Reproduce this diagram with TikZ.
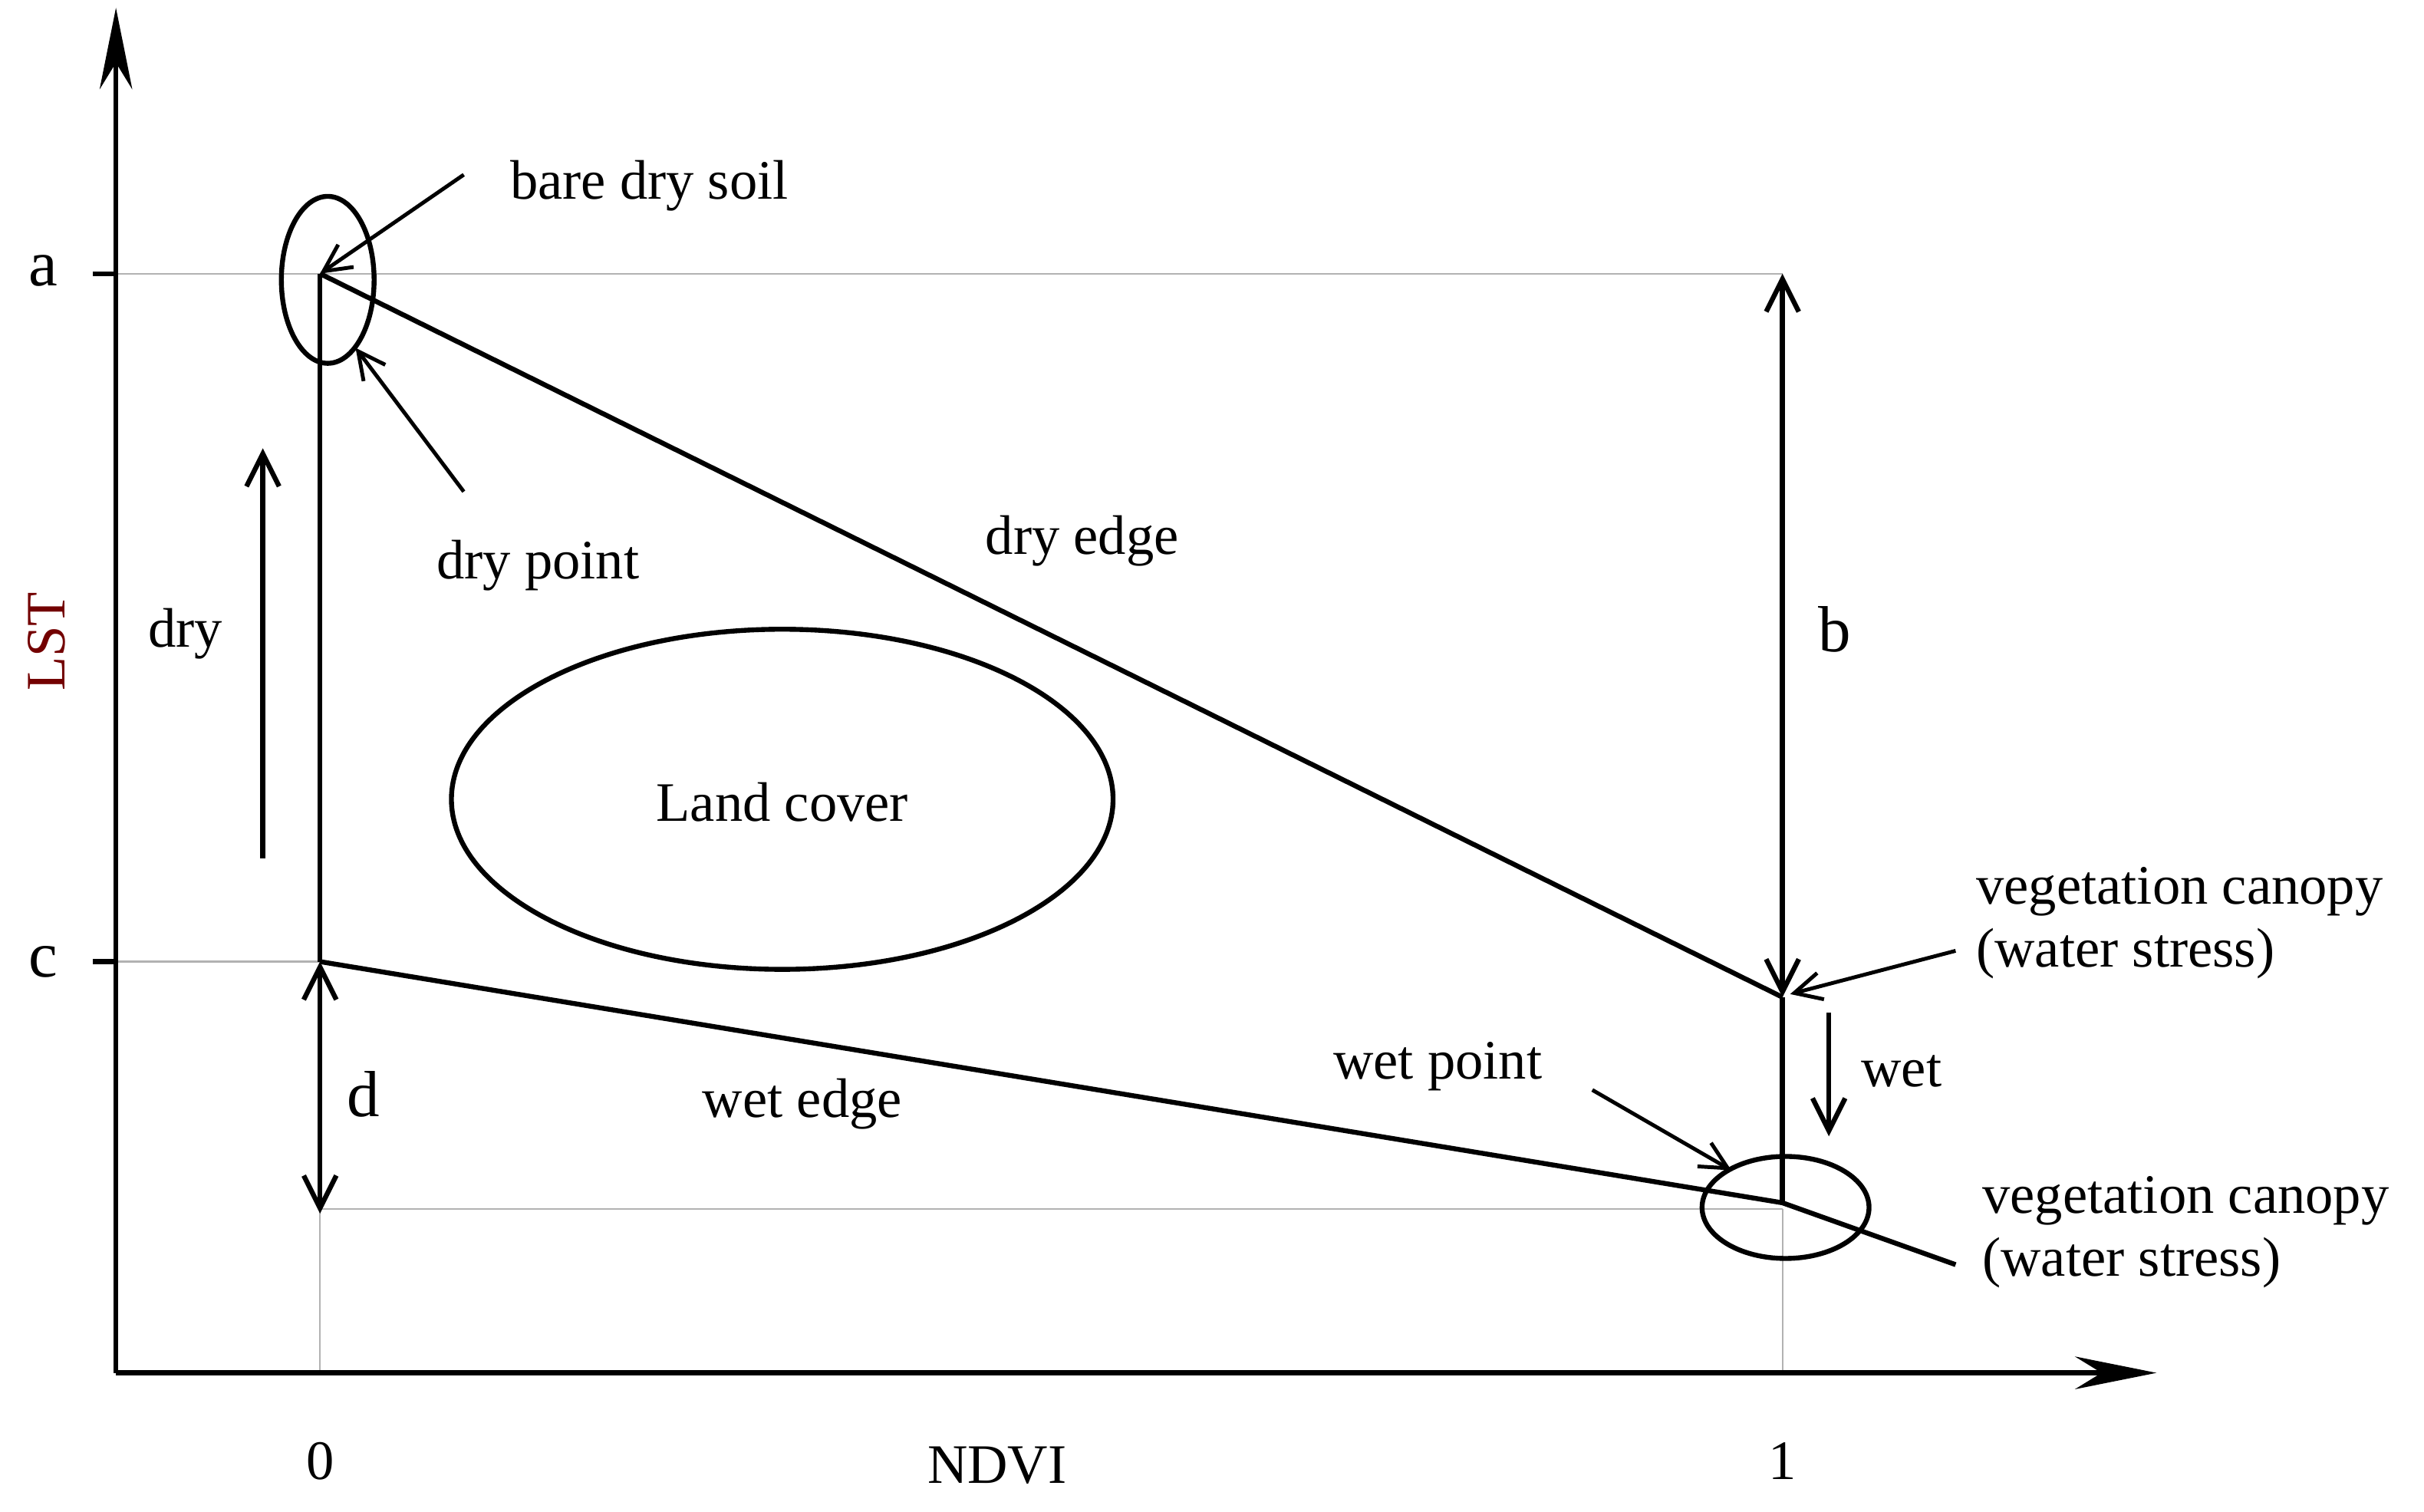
\documentclass[tikz,border=0pt]{standalone}
\usepackage{fontspec}
\setmainfont{Liberation Serif}
\usetikzlibrary{arrows.meta}
\begin{document}
\begin{tikzpicture}[x=0.02cm,y=-0.02cm,
  lbl/.style={font=\fontsize{20.5}{23}\selectfont,inner sep=0pt},
  big/.style={font=\fontsize{24}{26}\selectfont,inner sep=0pt},
  thk/.style={line width=1.8pt},
  gry/.style={draw=gray!60,line width=0.6pt},
  arr/.style={thk,-{Straight Barb[length=12pt,width=12pt]}},
  darr/.style={thk,{Straight Barb[length=12pt,width=12pt]}-{Straight Barb[length=12pt,width=12pt]}},
  ptr/.style={line width=1.4pt,-{Straight Barb[length=10pt,width=10pt]}}]
\useasboundingbox (0,0) rectangle (1568,978);
\coordinate (O) at (75,888);
\coordinate (Ytop) at (75,5);
\coordinate (Xend) at (1395,888);
\coordinate (A) at (207,177);
\coordinate (C) at (207,622);
\coordinate (D) at (207,785);
\coordinate (B) at (1153,177);
\coordinate (V) at (1153,645);
\coordinate (W) at (1153,778);
\draw[gry] (75,177) -- (B);
\draw[gry] (75,622) -- (C);
\draw[gry] (207,782) -- (1153,782);
\draw[gry] (207,782) -- (207,888);
\draw[gry] (1153,782) -- (1153,888);
\draw[thk,-{Stealth[length=30pt,width=12pt]}] (O) -- (Ytop);
\draw[thk,-{Stealth[length=30pt,width=12pt]}] (O) -- (Xend);
\draw[thk] (60,177) -- (75,177);
\draw[thk] (60,622) -- (75,622);
\draw[thk] (A) -- (C);
\draw[thk] (A) -- (V);
\draw[thk] (C) -- (W) -- (1265,818);
\draw[darr] (V) -- (B);
\draw[thk] (V) -- (W);
\draw[darr] (C) -- (D);
\draw[arr] (170,555) -- (170,290);
\draw[arr] (1183,655) -- (1183,735);
\draw[thk] (212,181) ellipse [x radius=30, y radius=54];
\draw[thk] (506,517) ellipse [x radius=214, y radius=110];
\draw[thk] (1155,781) ellipse [x radius=54, y radius=33];
\node[big] (la) at (28,175) {a};
\node[big] (lc) at (28,622) {c};
\node[lbl] (l0) at (207,945) {0};
\node[lbl] (l1) at (1153,945) {1};
\node[lbl] (ndvi) at (645,948) {NDVI};
\node[lbl,rotate=90,text=red!45!black] (lst) at (30,415) {LST};
\node[lbl] (bds) at (420,120) {bare dry soil};
\node[lbl] (dp) at (348,366) {dry point};
\node[lbl] (de) at (700,350) {dry edge};
\node[lbl] (dry) at (120,410) {dry};
\node[lbl] (lcov) at (506,519) {Land cover};
\node[big] (lb) at (1187,407) {b};
\node[big] (ld) at (235,708) {d};
\node[lbl] (we) at (519,714) {wet edge};
\node[lbl] (wp) at (930,690) {wet point};
\node[lbl] (wet) at (1230,693) {wet};
\node[lbl,align=left,anchor=west] (vc1) at (1278,597) {vegetation canopy\\(water stress)};
\node[lbl,align=left,anchor=west] (vc2) at (1282,797) {vegetation canopy\\(water stress)};
\draw[ptr] (300,113) -- (A);
\draw[ptr] (300,318) -- (230,225);
\draw[ptr] (1030,705) -- (1120,757);
\draw[ptr] (1265,615) -- (1158,643);
\end{tikzpicture}
\end{document}
